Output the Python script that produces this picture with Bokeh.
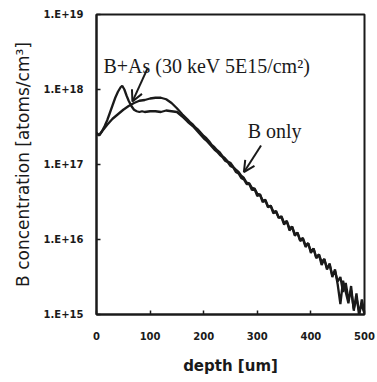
from bokeh.plotting import figure
from bokeh.models import FixedTicker, Label, Arrow, OpenHead, Range1d
from bokeh.embed import file_html
from bokeh.resources import INLINE

# ---- data ----
depth_b_only = [0, 5, 10, 20, 30, 40, 50, 60, 70, 80, 90, 100, 110, 120, 130, 140, 150, 160, 170, 175,
                180, 185, 190, 195, 200, 205, 210, 215, 220, 225, 230, 235, 240, 245, 250,
                255, 260, 265, 270, 275, 280, 285, 290, 295, 300, 305, 310, 315, 320, 325, 330,
                335, 340, 345, 350, 355, 360, 365, 370, 375, 380, 385, 390, 395, 400, 405, 410,
                415, 420, 425, 430, 435, 440, 445, 450, 455, 460, 465, 470, 475, 480, 485, 490,
                495, 500]
b_only_log10 = [17.41, 17.39, 17.44, 17.53, 17.61, 17.67, 17.73, 17.78, 17.82, 17.85, 17.86, 17.88,
                17.89, 17.89, 17.87, 17.82, 17.75, 17.67, 17.60, 17.56,
                17.53, 17.49, 17.46, 17.42, 17.38, 17.35, 17.31, 17.26, 17.23, 17.19, 17.16, 17.11,
                17.08, 17.04, 17.02, 16.97, 16.93, 16.90, 16.85, 16.82, 16.76, 16.75, 16.69, 16.68,
                16.61, 16.60, 16.52, 16.53, 16.44, 16.45, 16.37, 16.38, 16.29, 16.31, 16.22, 16.24,
                16.15, 16.17, 16.07, 16.09, 15.99, 16.02, 15.92, 15.95, 15.84, 15.88, 15.76, 15.80,
                15.70, 15.74, 15.62, 15.66, 15.52, 15.58, 15.44, 15.50, 15.30, 15.42, 15.20, 15.32,
                15.08, 15.22, 15.05, 15.12, 15.01]

depth_b_as = [0, 5, 10, 15, 20, 25, 30, 35, 40, 45, 48, 52, 56, 60, 65, 70, 75, 80, 85, 90, 100, 110,
              120, 130, 140, 150, 160, 170, 175,
              180, 185, 190, 195, 200, 205, 210, 215, 220, 225, 230, 235, 240, 245, 250,
              255, 260, 265, 270, 275, 280, 285, 290, 295, 300, 305, 310, 315, 320, 325, 330,
              335, 340, 345, 350, 355, 360, 365, 370, 375, 380, 385, 390, 395, 400, 405, 410,
              415, 420, 425, 430, 435, 440, 445, 450, 455, 460, 465, 470, 475, 480, 485, 490,
              495, 500]
b_as_log10 = [17.42, 17.39, 17.44, 17.51, 17.59, 17.69, 17.79, 17.89, 17.97, 18.03, 18.05, 18.00,
              17.92, 17.85, 17.78, 17.73, 17.71, 17.70, 17.71, 17.70, 17.71, 17.71, 17.70, 17.72,
              17.71, 17.70, 17.64, 17.57, 17.54,
              17.51, 17.47, 17.43, 17.39, 17.35, 17.32, 17.28, 17.24, 17.20, 17.17, 17.13, 17.10,
              17.05, 17.03, 16.98, 16.96, 16.90, 16.88, 16.82, 16.80, 16.74, 16.74, 16.66, 16.67,
              16.58, 16.60, 16.50, 16.52, 16.43, 16.45, 16.35, 16.37, 16.29, 16.30, 16.20, 16.25,
              16.12, 16.17, 16.05, 16.09, 15.98, 16.01, 15.90, 15.95, 15.82, 15.88, 15.75, 15.80,
              15.66, 15.74, 15.60, 15.68, 15.50, 15.60, 15.40, 15.14, 15.45, 15.30, 15.15, 15.38,
              15.05, 15.28, 14.98, 15.20, 15.02]

x_ticks = [0, 100, 200, 300, 400, 500]
y_ticks = [1e15, 1e16, 1e17, 1e18, 1e19]
y_tick_labels = ["1.E+15", "1.E+16", "1.E+17", "1.E+18", "1.E+19"]

b_only = [10 ** v for v in b_only_log10]
b_as = [10 ** v for v in b_as_log10]

p = figure(frame_width=268, frame_height=300, y_axis_type="log",
           x_range=Range1d(0, 500), y_range=Range1d(1e15, 1e19),
           output_backend="svg", toolbar_location=None,
           min_border_left=96, min_border_right=13, min_border_top=14, min_border_bottom=68,
           background_fill_color="white", border_fill_color="white")

p.line(depth_b_only, b_only, line_color="#1a1a1a", line_width=2.3)
p.line(depth_b_as, b_as, line_color="#1a1a1a", line_width=2.3)

p.outline_line_color = "#1a1a1a"
p.outline_line_width = 2
p.grid.visible = False

p.xaxis.ticker = FixedTicker(ticks=x_ticks, minor_ticks=[])
p.yaxis.ticker = FixedTicker(ticks=y_ticks, minor_ticks=[])
p.yaxis.major_label_overrides = {t: s for t, s in zip(y_ticks, y_tick_labels)}

for ax in (p.xaxis[0], p.yaxis[0]):
    ax.axis_line_width = 2
    ax.axis_line_color = "#1a1a1a"
    ax.major_tick_in = 4
    ax.major_tick_out = 0
    ax.major_tick_line_width = 1.5
    ax.major_tick_line_color = "#1a1a1a"
    ax.minor_tick_in = 0
    ax.minor_tick_out = 0
    ax.major_label_text_font = "DejaVu Sans"
    ax.major_label_text_font_style = "bold"
    ax.major_label_text_font_size = "10px"
    ax.major_label_text_color = "#1a1a1a"
    ax.axis_label_text_color = "#1a1a1a"

p.xaxis.major_label_standoff = 17
p.yaxis.major_label_standoff = 13

p.xaxis.axis_label = "depth [um]"
p.xaxis.axis_label_text_font = "DejaVu Sans"
p.xaxis.axis_label_text_font_style = "bold"
p.xaxis.axis_label_text_font_size = "15px"
p.xaxis.axis_label_standoff = 14

p.yaxis.axis_label = "B concentration [atoms/cm³]"
p.yaxis.axis_label_text_font = "DejaVu Sans"
p.yaxis.axis_label_text_font_style = "normal"
p.yaxis.axis_label_text_font_size = "17px"
p.yaxis.axis_label_standoff = 8

p.add_layout(Label(x=13, y=2.03e18, text="B+As (30 keV 5E15/cm²)",
                   text_font="Liberation Serif", text_font_size="20px",
                   text_color="#1a1a1a", text_baseline="alphabetic"))
p.add_layout(Label(x=282, y=2.84e17, text="B only",
                   text_font="Liberation Serif", text_font_size="20px",
                   text_color="#1a1a1a", text_baseline="alphabetic"))

p.add_layout(Arrow(end=OpenHead(size=11, line_width=2, line_color="#1a1a1a"),
                   x_start=95, y_start=1.9e18, x_end=67, y_end=6.9e17,
                   line_width=2, line_color="#1a1a1a"))
p.add_layout(Arrow(end=OpenHead(size=11, line_width=2, line_color="#1a1a1a"),
                   x_start=307, y_start=1.79e17, x_end=275, y_end=7.9e16,
                   line_width=2, line_color="#1a1a1a"))

open("out.html", "w").write(file_html(p, INLINE))
